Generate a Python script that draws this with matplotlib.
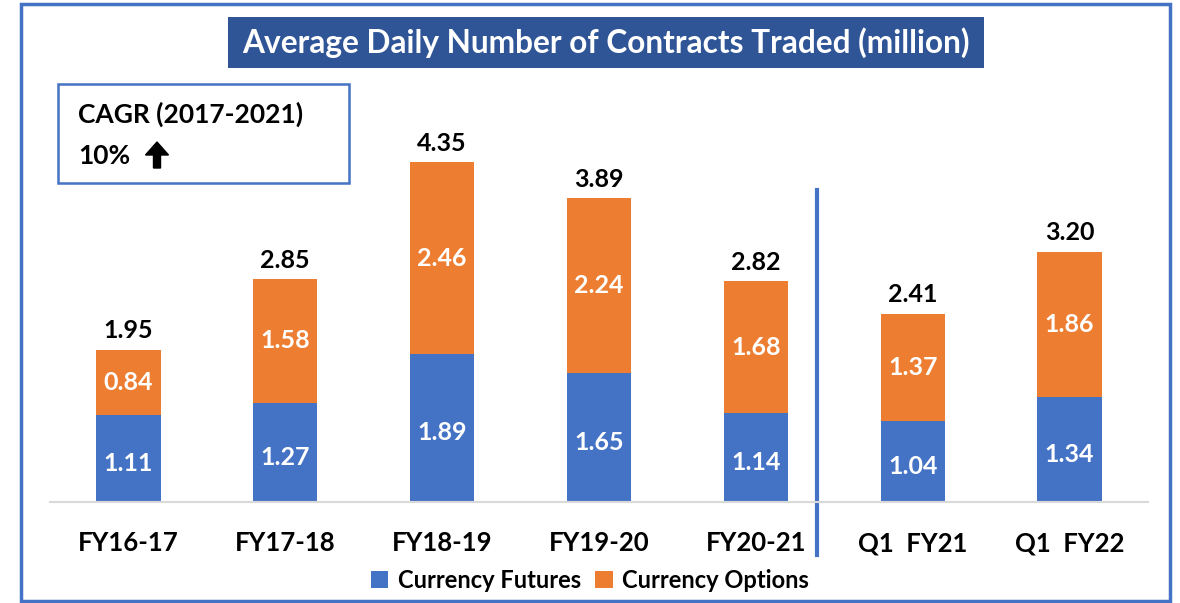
import matplotlib
matplotlib.use("Agg")
import matplotlib.pyplot as plt
from matplotlib.patches import Rectangle, FancyArrow
from matplotlib.lines import Line2D

categories = ["FY16-17", "FY17-18", "FY18-19", "FY19-20", "FY20-21", "Q1  FY21", "Q1  FY22"]
futures = [1.11, 1.27, 1.89, 1.65, 1.14, 1.04, 1.34]
options = [0.84, 1.58, 2.46, 2.24, 1.68, 1.37, 1.86]
totals = [1.95, 2.85, 4.35, 3.89, 2.82, 2.41, 3.20]

BLUE = "#4472C4"
ORANGE = "#ED7D31"
TITLE_BG = "#2F5597"
FONT = ["Lato", "DejaVu Sans"]

W, H = 1180, 603
fig = plt.figure(figsize=(W / 100, H / 100), dpi=100)

def fx(x):
    return x / W

def fy(y):
    return 1 - y / H

# outer frame
fig.patches.append(Rectangle((fx(21), fy(601)), fx(1170 - 21), (601 - 4) / H,
                             transform=fig.transFigure, fill=False,
                             edgecolor=BLUE, linewidth=2.5))

# axes
ax_left, ax_right, ax_bottom, ax_top = 50, 1148, 502, 111
ax = fig.add_axes([fx(ax_left), fy(ax_bottom), (ax_right - ax_left) / W, (ax_bottom - ax_top) / H])
x = list(range(len(categories)))
bw = 0.41
ax.bar(x, futures, width=bw, color=BLUE, label="Currency Futures")
ax.bar(x, options, width=bw, bottom=futures, color=ORANGE, label="Currency Options")
ax.set_xlim(-0.5, len(categories) - 0.5)
ax.set_ylim(0, 5.0)
for s in ["top", "right", "left"]:
    ax.spines[s].set_visible(False)
ax.spines["bottom"].set_color("#D9D9D9")
ax.spines["bottom"].set_linewidth(1.5)
ax.set_yticks([])
ax.set_xticks(x)
ax.set_xticklabels(categories, fontsize=18.5, fontweight="bold", family=FONT)
ax.tick_params(axis="x", length=0, pad=21)

for i in x:
    ax.text(i, futures[i] / 2 - 0.06, f"{futures[i]:.2f}", ha="center", va="center",
            color="white", fontsize=18, fontweight="bold", family=FONT)
    ax.text(i, futures[i] + options[i] / 2, f"{options[i]:.2f}", ha="center", va="center",
            color="white", fontsize=18, fontweight="bold", family=FONT)
    ax.text(i, totals[i] + 0.24, f"{totals[i]:.2f}", ha="center", va="center",
            color="black", fontsize=18, fontweight="bold", family=FONT)

# separator line
ax.add_line(Line2D([4.39, 4.39], [3.99, -0.68], color=BLUE, linewidth=3, clip_on=False))

# legend
leg = ax.legend(loc="center", bbox_to_anchor=(0.5, fy(580)), bbox_transform=fig.transFigure,
                ncol=2, frameon=False, handlelength=0.75, handleheight=0.75,
                handletextpad=0.4, columnspacing=0.6,
                prop={"family": FONT, "weight": "bold", "size": 17})

# title box
fig.patches.append(Rectangle((fx(228), fy(68)), fx(984 - 228), (68 - 17) / H,
                             transform=fig.transFigure, facecolor=TITLE_BG, edgecolor="none"))
fig.text(fx(606), fy(43), "Average Daily Number of Contracts Traded (million)",
         ha="center", va="center", color="white", fontsize=22.8, fontweight="bold", family=FONT)

# CAGR box
fig.patches.append(Rectangle((fx(58), fy(183)), fx(349 - 58), (183 - 84) / H,
                             transform=fig.transFigure, facecolor="white",
                             edgecolor=BLUE, linewidth=1.8))
fig.text(fx(78), fy(114), "CAGR (2017-2021)", ha="left", va="center",
         fontsize=19, fontweight="bold", family=FONT)
fig.text(fx(78), fy(156), "10%", ha="left", va="center",
         fontsize=19, fontweight="bold", family=FONT)
fig.patches.append(FancyArrow(fx(157), fy(168), 0, (168 - 142) / H, width=7 / W,
                              head_width=23 / W, head_length=13 / H,
                              length_includes_head=True, transform=fig.transFigure,
                              color="black"))

fig.savefig("out.png", dpi=100)
